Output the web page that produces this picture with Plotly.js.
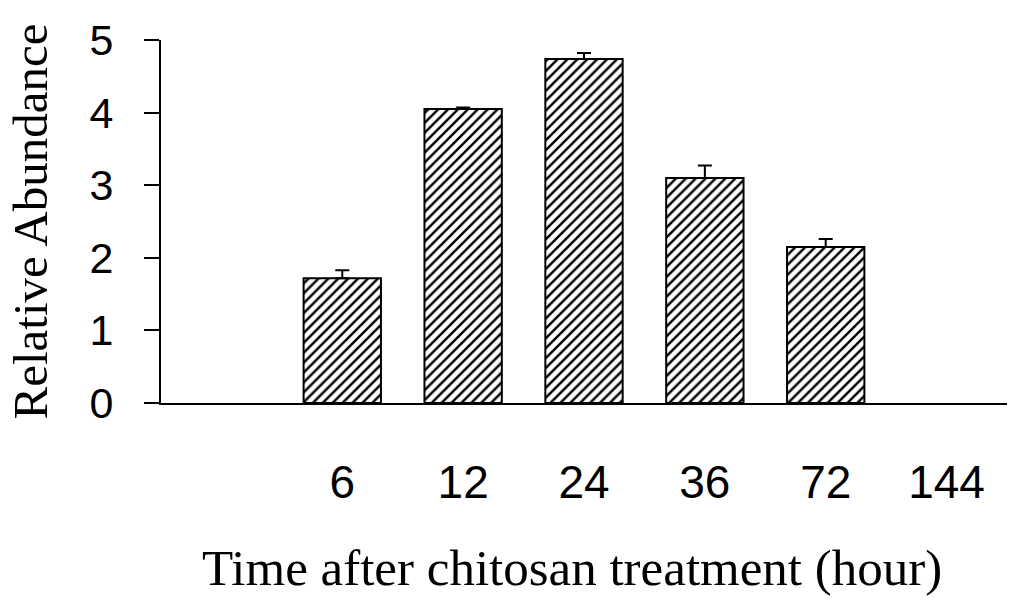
<!DOCTYPE html>
<html>
<head>
<meta charset="utf-8">
<script src="https://cdn.plot.ly/plotly-3.0.1.min.js"></script>
<style>html,body{margin:0;padding:0;background:#fff;}#chart{width:1024px;height:608px;}</style>
</head>
<body>
<div id="chart"></div>
<script>
var categories = ['', '6', '12', '24', '36', '72', '144'];
var abundance = [null, 1.72, 4.05, 4.74, 3.10, 2.15, null];
var errorUp = [0, 0.11, 0.02, 0.08, 0.17, 0.11, 0];
var xTitle = 'Time after chitosan treatment (hour)';
var yTitle = 'Relative Abundance';
var positions = categories.map(function (c, i) { return i; });

var trace = {
  type: 'bar',
  x: positions,
  y: abundance,
  marker: {
    color: '#ffffff',
    line: { color: '#000000', width: 2 },
    pattern: { shape: '/', fgcolor: '#000000', bgcolor: '#ffffff', size: 7, solidity: 0.35 }
  },
  error_y: {
    type: 'data', symmetric: false, array: errorUp,
    arrayminus: errorUp.map(function () { return 0; }),
    color: '#000000', thickness: 2, width: 7
  },
  hoverinfo: 'none'
};

var layout = {
  width: 1024, height: 608,
  margin: { l: 161, r: 17, t: 40, b: 205 },
  paper_bgcolor: '#ffffff', plot_bgcolor: '#ffffff',
  showlegend: false,
  bargap: 0.36,
  xaxis: {
    range: [-0.5, 6.5],
    tickvals: positions, ticktext: categories,
    showgrid: false, zeroline: false,
    showline: true, linecolor: '#000000', linewidth: 2,
    ticks: '', ticklabelstandoff: 38,
    tickfont: { family: 'Liberation Sans, Arial, sans-serif', size: 46, color: '#000' }
  },
  yaxis: {
    range: [0, 5], dtick: 1, tick0: 0,
    showgrid: false, zeroline: false,
    showline: true, linecolor: '#000000', linewidth: 2,
    ticks: 'outside', ticklen: 15, tickwidth: 2, tickcolor: '#000',
    ticklabelstandoff: 22,
    tickfont: { family: 'Liberation Sans, Arial, sans-serif', size: 43, color: '#000' },
    title: { text: yTitle, standoff: 26,
      font: { family: 'Liberation Serif, Times New Roman, serif', size: 49, color: '#000' } }
  },
  annotations: [{
    text: xTitle, xref: 'paper', yref: 'paper', x: 0.486, xanchor: 'center',
    y: -0.455, yanchor: 'middle', showarrow: false,
    font: { family: 'Liberation Serif, Times New Roman, serif', size: 51, color: '#000' }
  }]
};

Plotly.newPlot('chart', [trace], layout, { staticPlot: true, displayModeBar: false });
</script>
</body>
</html>
